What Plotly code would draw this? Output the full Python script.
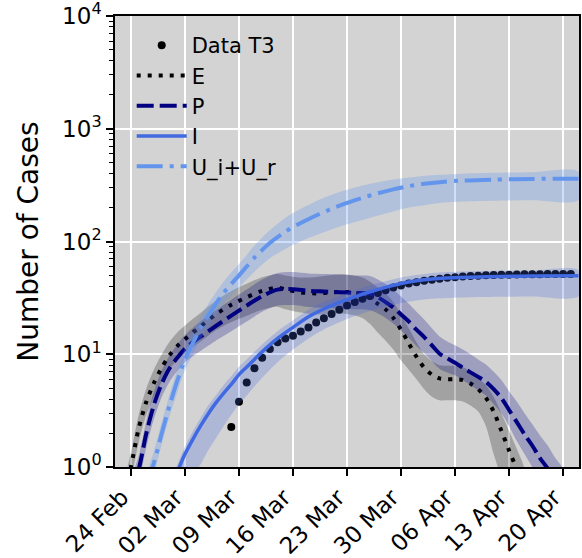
import pandas as pd
import plotly.graph_objects as go

BASE = pd.Timestamp("2020-02-24")

# ---- Data T3 (daily observations) ----
data_day = list(range(13, 58))
data_val = [2.26, 3.78, 5.6, 7.5, 9.3, 11.1, 12.8, 13.8, 14.6, 15.9,
            17.3, 19.1, 20.8, 22.8, 24.8, 27.0, 29.0, 31.0, 32.8, 35.0,
            37.0, 39.0, 40.8, 42.3, 43.6, 44.8, 45.8, 46.8, 47.6, 48.3,
            48.9, 49.4, 49.8, 50.1, 50.4, 50.6, 50.8, 51.0, 51.1, 51.2,
            51.3, 51.4, 51.5, 51.5, 51.6]

# ---- E ----
E_day = [-1, 0, 1, 2, 3, 4, 5, 6, 7, 9, 11, 13, 15, 17, 19, 20, 22, 24, 26, 28, 30,
         31, 32, 33, 34, 35, 36, 37, 38, 39, 40, 41, 42, 43, 44, 45, 46, 47, 48, 49, 50, 51]
E_mid = [0.5, 1.0, 2.2, 3.8, 5.6, 7.6, 9.8, 11.8, 13.6, 17.6, 22.6, 27.5, 32, 36.5, 39,
         37.5, 35.4, 34.6, 35.4, 35.6, 34, 31.5, 28, 25, 21, 16.5, 12.5, 9.5, 7.6, 6.6, 6.1,
         6.0, 6.0, 5.9, 5.5, 4.9, 4.1, 3.1, 2.1, 1.4, 0.95, 0.6]
E_hi = [0.7, 1.35, 2.9, 5.0, 7.4, 10.0, 12.9, 15.6, 18.0, 23.2, 29.8, 36.3, 42.2, 48.2, 51.5,
        50, 48, 48.5, 50.5, 51, 48, 44, 39, 34.5, 29, 22.5, 17, 12.8, 10.0, 8.7, 8.0,
        7.9, 7.9, 7.7, 7.0, 6.2, 5.3, 4.2, 3.0, 2.1, 1.45, 0.95]
E_lo = [0.35, 0.75, 1.65, 2.9, 4.2, 5.7, 7.4, 8.9, 10.2, 12.9, 16.3, 19.3, 22, 24.8, 26.3,
        25, 23.4, 22.5, 23, 22.8, 21, 18.5, 15.5, 13.2, 11, 8.8, 7.3, 6.0, 4.9, 4.2, 3.9,
        3.9, 3.9, 3.8, 3.5, 3.1, 2.3, 1.3, 0.8, 0.5, 0.35, 0.25]

# ---- P ----
P_day = [0, 1, 2, 3, 4, 5, 6, 7, 9, 11, 13, 15, 17, 19, 21, 23, 25, 27, 29, 31,
         32, 33, 34, 35, 36, 37, 38, 39, 40, 41, 42, 43, 44, 45, 46, 47, 48, 49, 50, 51,
         52, 53, 54, 55, 56]
P_mid = [0.6, 0.95, 2.0, 3.6, 5.5, 7.5, 9.3, 11.2, 14.3, 17.8, 22, 27, 32.8, 37.4, 37.8,
         36.5, 36, 35.5, 35, 34.5, 32, 29, 26, 22.5, 19.5, 16.5, 14.2, 12, 10.1, 9.2,
         8.4, 7.6, 6.9, 6.3, 5.7, 4.9, 4.1, 3.2, 2.5, 1.95, 1.55, 1.2, 0.97, 0.75, 0.58]
P_hi = [0.8, 1.25, 2.6, 4.7, 7.2, 9.8, 12.2, 14.8, 19.5, 24.5, 30.5, 37.5, 46, 52.5, 53.5,
        52, 51.5, 51, 50, 49.5, 46, 42, 37.5, 32.5, 28, 23.8, 20.3, 17, 14.4, 13.0,
        12.0, 11.0, 10.0, 9.0, 8.1, 7.0, 5.9, 4.7, 3.8, 3.0, 2.4, 1.9, 1.55, 1.2, 0.95]
P_lo = [0.45, 0.72, 1.5, 2.7, 4.2, 5.7, 7.1, 8.5, 10.7, 13.2, 16, 19.5, 23.8, 27, 27.3,
        26.3, 25.8, 25.5, 25, 24.5, 23, 21, 18.7, 16.2, 14, 11.8, 10.2, 8.7, 7.4, 6.9,
        6.5, 5.9, 5.3, 4.8, 4.3, 3.6, 3.0, 2.3, 1.7, 1.3, 1.0, 0.75, 0.6, 0.45, 0.35]

# ---- I ----
I_day = [5, 6, 7, 8, 9, 10, 11, 12, 13, 14, 15, 16, 17, 19, 21, 23, 25, 27, 29, 31,
         33, 35, 37, 39, 41, 44, 48, 52, 58]
I_mid = [0.62, 0.9, 1.3, 1.75, 2.3, 2.95, 3.7, 4.5, 5.4, 6.6, 7.7, 9.0, 10.5, 13.8, 17.3,
         21.5, 25.2, 28.8, 32.3, 35.8, 39.2, 42.4, 44.8, 46.5, 47.4, 48.3, 49, 49.3, 49.6]
I_hi = [0.75, 1.05, 1.52, 2.05, 2.7, 3.5, 4.3, 5.3, 6.4, 7.8, 9.0, 10.5, 12.2, 16.0, 20.0,
        24.8, 29, 33, 37, 41, 44.5, 48, 50.5, 52.5, 53.5, 54.5, 55, 55.3, 55.5]
I_lo = [0.25, 0.4, 0.6, 0.85, 1.05, 1.4, 1.8, 2.3, 2.9, 3.6, 4.3, 5.2, 6.2, 8.5, 11.0,
        13.8, 16.6, 19.2, 21.8, 24.2, 26.5, 28.5, 30, 31, 31.5, 32, 32.3, 32.5, 32.6]

# ---- U_i+U_r ----
U_day = [2, 3, 4, 5, 6, 7, 8, 9, 10, 11, 12, 13, 14, 15, 16, 18, 20, 22, 24, 26, 28, 30,
         32, 34, 36, 38, 40, 43, 47, 52, 58]
U_mid = [0.7, 1.1, 2.0, 3.5, 5.8, 9.0, 12.5, 17, 22, 28, 35, 42, 50, 60, 72, 97, 122, 146,
         170, 195, 220, 244, 268, 290, 310, 325, 336, 347, 354, 359, 361]
U_hi = [0.88, 1.4, 2.5, 4.4, 7.3, 11.3, 15.7, 21.4, 27.7, 35.2, 44, 53, 63, 76, 92, 126, 162,
        195, 228, 260, 288, 314, 336, 355, 370, 382, 390, 400, 407, 412, 414]
U_lo = [0.55, 0.87, 1.6, 2.8, 4.6, 7.2, 9.9, 13.5, 17.5, 22.2, 27.8, 33, 39, 46, 54, 71, 86,
        100, 114, 128, 142, 155, 170, 185, 200, 210, 220, 226, 230, 232, 233]

# ---- axes ----
x_tick_dates = ["2020-02-24", "2020-03-02", "2020-03-09", "2020-03-16", "2020-03-23",
                "2020-03-30", "2020-04-06", "2020-04-13", "2020-04-20"]
x_tick_labels = ["24 Feb", "02 Mar", "09 Mar", "16 Mar", "23 Mar",
                 "30 Mar", "06 Apr", "13 Apr", "20 Apr"]
y_tick_vals = [1, 10, 100, 1000, 10000]
y_tick_labels = ["10<sup>0</sup>", "10<sup>1</sup>", "10<sup>2</sup>",
                 "10<sup>3</sup>", "10<sup>4</sup>"]
y_minor_vals = [m * 10 ** k for k in range(4) for m in range(2, 10)]
x_range = ["2020-02-21 22:20", "2020-04-22 01:30"]
y_range = [-0.0004, 4.0004]


def to_dates(days):
    return [BASE + pd.Timedelta(days=d) for d in days]


fig = go.Figure()

fig.add_trace(go.Scatter(
    x=to_dates(data_day), y=data_val, mode="markers", name="Data T3",
    marker=dict(color="black", size=8), legendgroup="a"))

series = [
    ("E", E_day, E_mid, E_lo, E_hi, "rgba(0,0,0,0.23)",
     dict(color="black", width=4, dash="4px,7px")),
    ("P", P_day, P_mid, P_lo, P_hi, "rgba(0,0,128,0.25)",
     dict(color="navy", width=4, dash="17px,6px")),
    ("I", I_day, I_mid, I_lo, I_hi, "rgba(65,105,225,0.25)",
     dict(color="royalblue", width=3.5)),
    ("U_i+U_r", U_day, U_mid, U_lo, U_hi, "rgba(100,149,237,0.3)",
     dict(color="cornflowerblue", width=4, dash="26px,7px,4px,7px")),
]

for name, d, mid, lo, hi, fillcol, line in series:
    dates = to_dates(d)
    fig.add_trace(go.Scatter(
        x=dates + dates[::-1], y=hi + lo[::-1], fill="toself", fillcolor=fillcol,
        line=dict(width=0, shape="spline", smoothing=0.8), mode="lines",
        showlegend=False, hoverinfo="skip"))
    line = dict(line, shape="spline", smoothing=0.8)
    fig.add_trace(go.Scatter(x=dates, y=mid, mode="lines", name=name, line=line,
                             legendgroup=name))

fig.update_layout(
    width=582, height=558,
    margin=dict(l=115, r=3, t=16, b=91, autoexpand=False),
    plot_bgcolor="#d3d3d3", paper_bgcolor="white",
    font=dict(family="DejaVu Sans", color="black", size=22),
    legend=dict(x=0.036, y=0.980, xanchor="left", yanchor="top",
                bgcolor="rgba(0,0,0,0)", font=dict(size=21), itemwidth=50,
                tracegroupgap=6, traceorder="normal"),
)
fig.update_xaxes(
    type="date", range=x_range, tickmode="array", tickvals=x_tick_dates,
    ticktext=x_tick_labels, tickangle=-45, ticks="outside", ticklen=7, tickwidth=1.5,
    tickcolor="black", showline=True, linecolor="black", linewidth=1.5, mirror=True,
    showgrid=True, gridcolor="white", gridwidth=1.5, zeroline=False, automargin=False,
    tickfont=dict(size=23), ticklabelstandoff=-1, ticklabelshift=-9)
fig.update_yaxes(
    type="log", range=y_range, tickmode="array", tickvals=y_tick_vals,
    ticktext=y_tick_labels, ticks="outside", ticklen=7, tickwidth=1.5, tickcolor="black",
    showline=True, linecolor="black", linewidth=1.5, mirror=True, showgrid=True,
    gridcolor="white", gridwidth=1.5, zeroline=False, automargin=False,
    tickfont=dict(size=23), ticklabeloverflow="allow",
    minor=dict(tickmode="array", tickvals=y_minor_vals, ticks="outside", ticklen=4,
               tickwidth=1, tickcolor="black", showgrid=False),
    title=dict(text="Number of Cases", font=dict(size=28), standoff=15))

fig.write_html("out.html", config={"displayModeBar": False},
               post_script="document.body.style.margin='0';document.body.style.padding='0';")
